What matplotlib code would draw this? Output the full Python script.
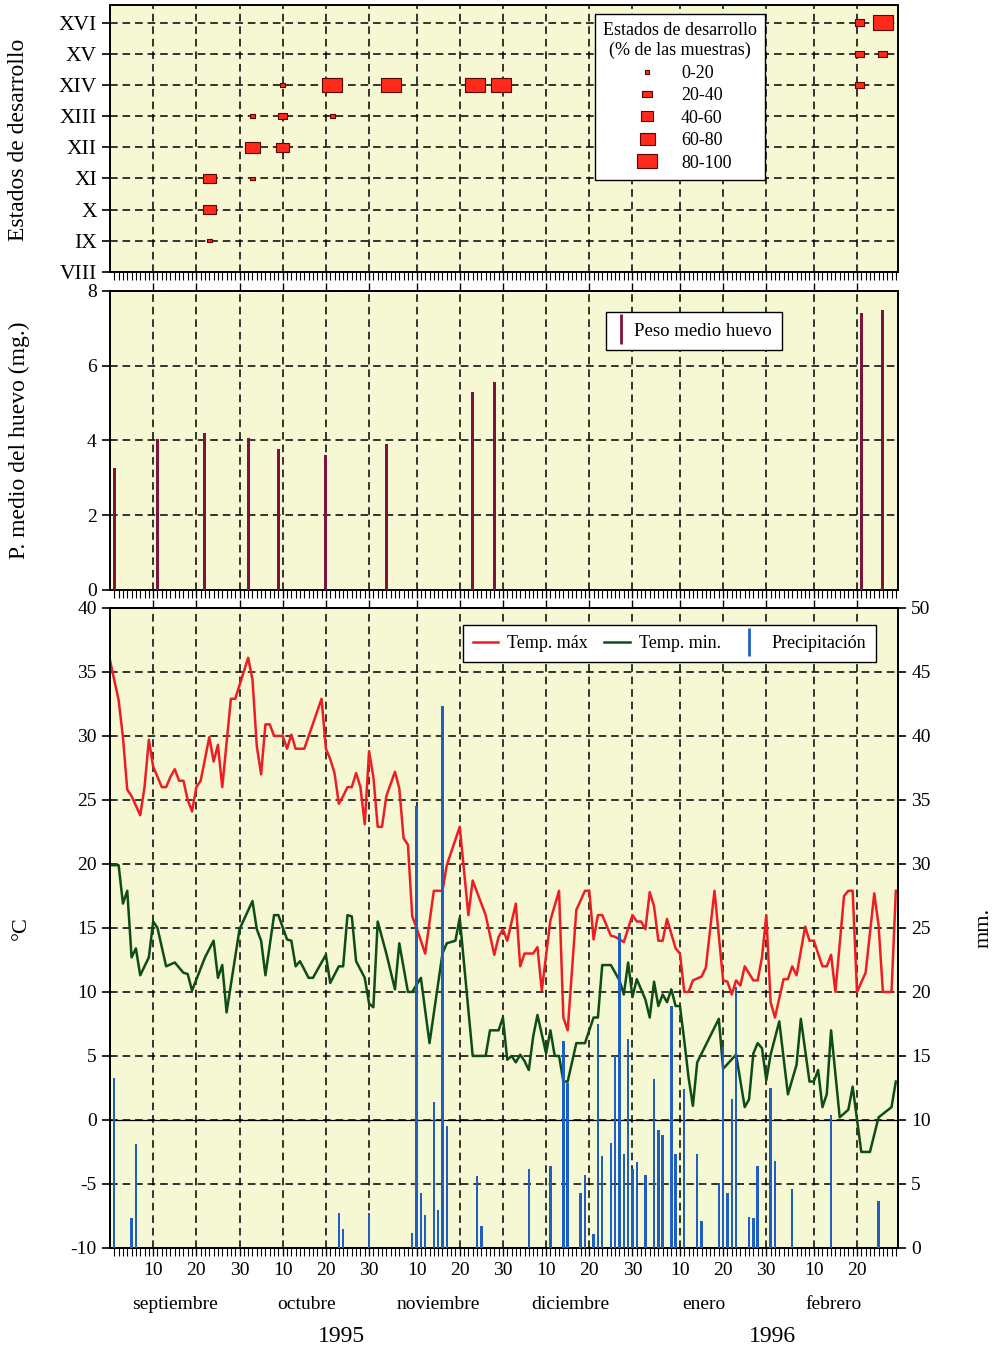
import matplotlib.pyplot as plt
import numpy as np
from matplotlib.lines import Line2D

plt.rcParams['font.family'] = ['Liberation Serif', 'DejaVu Serif']
plt.rcParams['axes.unicode_minus'] = False

# ------------------------------------------------------------
# DATOS  (dia 1 = 1 de septiembre de 1995)
# ------------------------------------------------------------
month_names = ['septiembre', 'octubre', 'noviembre', 'diciembre', 'enero', 'febrero']
month_len = [30, 31, 30, 31, 31, 29]
years = ['1995', '1996']
year_pos = [53.5, 153.5]

# Estados de desarrollo (dia, estado, % de las muestras)
stage_labels = ['VIII', 'IX', 'X', 'XI', 'XII', 'XIII', 'XIV', 'XV', 'XVI']
stage_day = [23, 23, 23, 33, 33, 40, 33, 40, 51.5, 40, 51.5, 65, 84.5, 90.5,
             173.5, 173.5, 179, 173.5, 179]
stage_val = [9, 10, 11, 11, 12, 12, 13, 13, 13, 14, 14, 14, 14, 14,
             14, 15, 15, 16, 16]
stage_pct = [10, 50, 50, 10, 70, 50, 10, 30, 10, 10, 90, 90, 90, 90,
             30, 30, 30, 30, 90]
pct_classes = ['0-20', '20-40', '40-60', '60-80', '80-100']

# Peso medio del huevo (mg)
egg_day = [1, 11, 22, 32, 39, 50, 64, 84, 89, 174, 179]
egg_w = [3.25, 4.05, 4.2, 4.07, 3.78, 3.6, 3.9, 5.3, 5.57, 7.4, 7.5]

# Temperatura maxima (dia, C)
tmax_day = [0, 2, 3, 4, 5, 7, 8, 9, 10, 12, 13, 14, 15, 16, 17, 18, 19, 20, 21,
            23, 24, 25, 26, 28, 29, 32, 33, 34, 35, 36, 37, 38, 40, 41, 42, 43,
            45, 49, 50, 51, 52, 53, 54, 55, 56, 57, 58, 59, 60, 61, 62, 63, 64,
            66, 67, 68, 69, 70, 71, 73, 75, 77, 78, 81, 83, 84, 87, 89, 90, 91,
            92, 94, 95, 96, 98, 99, 100, 102, 104, 105, 106, 108, 110, 111, 112,
            113, 114, 116, 117, 119, 121, 122, 123, 124, 125, 126, 127, 128,
            129, 131, 132, 133, 134, 135, 137, 138, 140, 142, 143, 144, 145,
            146, 147, 149, 150, 151, 152, 153, 154, 156, 157, 158, 159, 161,
            162, 163, 165, 166, 167, 168, 170, 171, 172, 173, 175, 177, 178,
            179, 181, 182]
tmax = [35.9, 32.8, 29.9, 25.8, 25.3, 23.8, 26.0, 29.7, 27.6, 26.0, 26.0, 26.8,
        27.4, 26.5, 26.5, 25.0, 24.1, 26.0, 26.5, 29.9, 28.0, 29.3, 26.0, 32.9,
        32.9, 36.1, 34.4, 29.2, 27.0, 30.9, 30.9, 30.0, 30.0, 29.0, 30.1, 29.0,
        29.0, 32.9, 29.0, 28.2, 27.1, 24.7, 25.3, 26.0, 26.0, 27.1, 26.0, 23.1,
        28.8, 26.8, 22.9, 22.9, 25.3, 27.2, 25.9, 22.0, 21.5, 15.9, 15.0, 13.0,
        17.9, 17.9, 19.9, 22.9, 16.0, 18.7, 16.0, 12.9, 14.3, 14.9, 14.0, 16.9,
        12.0, 13.0, 13.0, 13.5, 10.1, 15.6, 17.9, 8.0, 7.0, 16.4, 17.9, 17.9,
        14.1, 16.0, 16.0, 14.4, 14.3, 13.9, 16.0, 15.5, 15.5, 14.9, 17.8, 16.7,
        14.0, 14.0, 15.7, 13.4, 13.0, 10.0, 10.0, 10.9, 11.2, 11.9, 17.9, 10.9,
        10.8, 9.8, 10.9, 10.5, 12.0, 10.9, 10.9, 12.7, 16.0, 9.2, 8.0, 11.0,
        11.0, 12.0, 11.3, 15.1, 14.0, 14.0, 12.0, 12.0, 12.9, 10.0, 17.5, 17.9,
        17.9, 10.0, 11.5, 17.7, 15.2, 10.0, 10.0, 17.9]

# Temperatura minima (dia, C)
tmin_day = [0, 2, 3, 4, 5, 6, 7, 9, 10, 11, 13, 15, 17, 18, 19, 22, 24, 25, 26,
            27, 30, 33, 34, 35, 36, 38, 39, 41, 42, 43, 44, 46, 47, 50, 51, 53,
            54, 55, 56, 57, 59, 60, 61, 62, 64, 66, 67, 69, 70, 72, 74, 77, 78,
            80, 81, 84, 87, 88, 90, 91, 92, 93, 94, 95, 96, 97, 98, 99, 101,
            102, 103, 104, 105, 106, 108, 110, 112, 113, 114, 116, 118, 119,
            120, 121, 122, 124, 125, 126, 127, 128, 129, 130, 131, 132, 133,
            134, 135, 136, 141, 142, 145, 147, 148, 149, 150, 151, 152, 153,
            155, 157, 159, 160, 162, 163, 164, 165, 166, 167, 169, 171, 172,
            174, 176, 178, 181, 182]
tmin = [19.9, 19.9, 16.9, 17.9, 12.7, 13.4, 11.3, 12.7, 15.5, 15.0, 12.0, 12.3,
        11.5, 11.4, 10.1, 12.7, 14.0, 11.1, 12.1, 8.4, 14.9, 17.1, 14.9, 14.0,
        11.3, 16.0, 16.0, 14.1, 14.0, 12.0, 12.4, 11.1, 11.1, 12.9, 10.7, 12.0,
        12.0, 16.0, 15.9, 12.4, 11.1, 9.1, 8.8, 15.5, 13.0, 10.2, 13.8, 10.0,
        10.0, 11.1, 6.0, 13.0, 13.8, 14.0, 15.8, 5.0, 5.0, 7.0, 7.0, 8.0, 4.7,
        5.0, 4.5, 5.1, 4.6, 3.9, 6.5, 8.2, 5.2, 7.0, 5.0, 5.0, 3.0, 3.0, 6.0,
        6.0, 8.0, 8.0, 12.1, 12.1, 10.9, 9.8, 12.3, 9.6, 11.0, 9.4, 8.0, 10.8,
        8.9, 9.8, 9.2, 10.2, 8.9, 8.9, 6.2, 3.3, 1.1, 4.5, 7.9, 4.0, 5.1, 1.0,
        1.6, 5.2, 6.0, 5.6, 3.1, 5.1, 7.7, 2.0, 4.3, 7.9, 3.0, 3.0, 3.9, 1.0,
        2.0, 7.0, 0.2, 0.8, 2.6, -2.5, -2.5, 0.2, 1.0, 3.0]

# Precipitacion (dia, mm)
rain_day = [1, 5, 6, 53, 54, 60, 70, 71, 72, 73, 75, 76, 77, 78, 85, 86, 97,
            102, 105, 106, 109, 110, 112, 113, 114, 116, 117, 118, 119, 120,
            121, 122, 124, 126, 127, 128, 130, 131, 133, 136, 137, 141, 142,
            143, 144, 145, 148, 149, 150, 153, 154, 158, 167, 178]
rain = [13.3, 2.3, 8.1, 2.7, 1.5, 2.7, 1.2, 34.5, 4.3, 2.6, 11.4, 3.0, 42.3,
        9.5, 5.6, 1.7, 6.2, 6.4, 16.2, 12.9, 4.3, 5.7, 1.1, 17.5, 7.2, 8.2,
        15.0, 24.6, 7.3, 16.3, 6.2, 6.7, 5.7, 13.2, 9.2, 8.8, 18.9, 7.3, 12.4,
        7.3, 2.1, 5.1, 15.7, 4.3, 11.6, 20.4, 2.4, 2.3, 6.4, 12.5, 6.8, 4.6,
        10.4, 3.7]

# ------------------------------------------------------------
# ESTILO
# ------------------------------------------------------------
bg = '#f5f8d2'
red = '#ee1d23'
green = '#0e4d16'
blue = '#1f5fc4'
maroon = '#80123f'
sq_face = '#ff2a1a'
sq_edge = '#5c0505'
rect = [(-1.35, -1), (1.35, -1), (1.35, 1), (-1.35, 1), (-1.35, -1)]
sq_width = [3.2, 6.5, 9.0, 10.8, 14.4]     # pt
grid_kw = dict(color='black', linestyle=(0, (5, 3.2)), linewidth=1.1)

month_start = np.concatenate([[0], np.cumsum(month_len)[:-1]])
major_x, major_lab = [], []
for s, n in zip(month_start, month_len):
    for k in (10, 20, 30):
        if k <= n:
            major_x.append(s + k)
            major_lab.append(str(k))
minor_x = np.arange(1, sum(month_len) + 1)

fig = plt.figure(figsize=(9.99, 13.5), dpi=100)
ax1 = fig.add_axes([0.1101, 0.7987, 0.7888, 0.1976])
ax2 = fig.add_axes([0.1101, 0.5630, 0.7888, 0.2215])
ax3 = fig.add_axes([0.1101, 0.0756, 0.7888, 0.4741])

for ax in (ax1, ax2, ax3):
    ax.set_facecolor(bg)
    ax.set_xlim(0, 182.5)
    ax.set_xticks(major_x)
    ax.set_xticks(minor_x, minor=True)
    ax.xaxis.grid(True, **grid_kw)
    ax.yaxis.grid(True, **grid_kw)
    ax.set_axisbelow(True)
    for sp in ax.spines.values():
        sp.set_linewidth(1.4)
    ax.tick_params(axis='x', which='minor', direction='out', length=6, width=0.8)
    ax.tick_params(axis='x', which='major', direction='out', length=6, width=1.0)
    ax.tick_params(axis='y', direction='out', length=6, width=1.2, labelsize=14)

ax1.tick_params(axis='x', labelbottom=False)
ax2.tick_params(axis='x', labelbottom=False, top=True)
ax3.tick_params(axis='x', top=True, labelsize=14, pad=4)
ax2.tick_params(axis='x', which='minor', top=False)
ax3.tick_params(axis='x', which='minor', top=False)

# ------------------------------------------------------------
# PANEL 1: ESTADOS DE DESARROLLO
# ------------------------------------------------------------
cls = np.digitize(stage_pct, [20, 40, 60, 80])
sizes = np.array(sq_width)[cls] ** 2
ax1.scatter(stage_day, stage_val, s=sizes, marker=rect, color=sq_face,
            edgecolors=sq_edge, linewidths=0.8, zorder=3)
ax1.set_ylim(8, 16.57)
ax1.set_yticks(np.arange(8, 17))
ax1.set_yticklabels(stage_labels, fontsize=15.5)

h1 = [Line2D([], [], marker=rect, linestyle='None', markersize=w,
             markerfacecolor=sq_face, markeredgecolor=sq_edge, markeredgewidth=0.8)
      for w in sq_width]
leg1 = ax1.legend(h1, pct_classes, title='Estados de desarrollo\n(% de las muestras)',
                  loc='upper left', bbox_to_anchor=(0.6155, 0.965), borderaxespad=0,
                  fontsize=13, title_fontsize=13, fancybox=False, framealpha=1,
                  edgecolor='black', alignment='center', labelspacing=0.3,
                  handletextpad=0.9, borderpad=0.45)
leg1.get_title().set_multialignment('center')
leg1.get_frame().set_linewidth(1.0)

# ------------------------------------------------------------
# PANEL 2: PESO MEDIO DEL HUEVO
# ------------------------------------------------------------
ax2.bar(egg_day, egg_w, width=0.7, color=maroon, zorder=3)
ax2.set_ylim(0, 8)
ax2.set_yticks([0, 2, 4, 6, 8])
h2 = [Line2D([], [], color=maroon, marker='|', linestyle='None',
             markersize=22, markeredgewidth=2)]
leg2 = ax2.legend(h2, ['Peso medio huevo'], loc='upper left',
                  bbox_to_anchor=(0.630, 0.929), borderaxespad=0, fontsize=13.5,
                  fancybox=False, framealpha=1, edgecolor='black',
                  handlelength=0.5, handletextpad=0.4, borderpad=0.55)
leg2.get_frame().set_linewidth(1.0)

# ------------------------------------------------------------
# PANEL 3: TEMPERATURAS Y PRECIPITACION
# ------------------------------------------------------------
ax3.plot(tmax_day, tmax, color=red, linewidth=1.8, zorder=3)
ax3.plot(tmin_day, tmin, color=green, linewidth=1.8, zorder=3)
ax3.axhline(0, color='black', linewidth=0.9, zorder=2)
ax3.set_ylim(-10, 40)
ax3.set_yticks(np.arange(-10, 41, 5))
ax3.set_xticklabels(major_lab)

ax3b = ax3.twinx()
ax3b.bar(rain_day, rain, width=0.55, color=blue, zorder=3)
ax3b.set_ylim(0, 50)
ax3b.set_yticks(np.arange(0, 51, 5))
ax3b.tick_params(axis='y', direction='out', length=6, width=1.2, labelsize=14)
for sp in ax3b.spines.values():
    sp.set_linewidth(1.4)

h3 = [Line2D([], [], color=red, linewidth=1.8),
      Line2D([], [], color=green, linewidth=1.8),
      Line2D([], [], color=blue, marker='|', linestyle='None',
             markersize=20, markeredgewidth=2)]
leg3 = ax3b.legend(h3, ['Temp. máx', 'Temp. min.', 'Precipitación'], ncol=3,
                   loc='upper left', bbox_to_anchor=(0.448, 0.973), borderaxespad=0,
                   fontsize=13, fancybox=False, framealpha=1, edgecolor='black',
                   handlelength=1.4, handletextpad=0.5, columnspacing=0.9,
                   borderpad=0.55)
leg3.get_frame().set_linewidth(1.0)

# meses y anos
xt = ax3.get_xaxis_transform()
for s, n, name in zip(month_start, month_len, month_names):
    ax3.text(s + n / 2, -0.089, name, transform=xt, ha='center', va='center',
             fontsize=14)
for x, y in zip(year_pos, years):
    ax3.text(x, -0.139, y, transform=xt, ha='center', va='center', fontsize=17)

# etiquetas de ejes
fig.text(0.019, 1 - 140 / 1350, 'Estados de desarrollo', rotation=90,
         ha='center', va='center', fontsize=17)
fig.text(0.019, 1 - 440 / 1350, 'P. medio del huevo (mg.)', rotation=90,
         ha='center', va='center', fontsize=17)
fig.text(0.021, 1 - 928 / 1350, '°C', rotation=90, ha='center', va='center',
         fontsize=16)
fig.text(0.985, 1 - 928 / 1350, 'mm.', rotation=90, ha='center', va='center',
         fontsize=16)

fig.savefig('out.png', dpi=100, facecolor='white')
